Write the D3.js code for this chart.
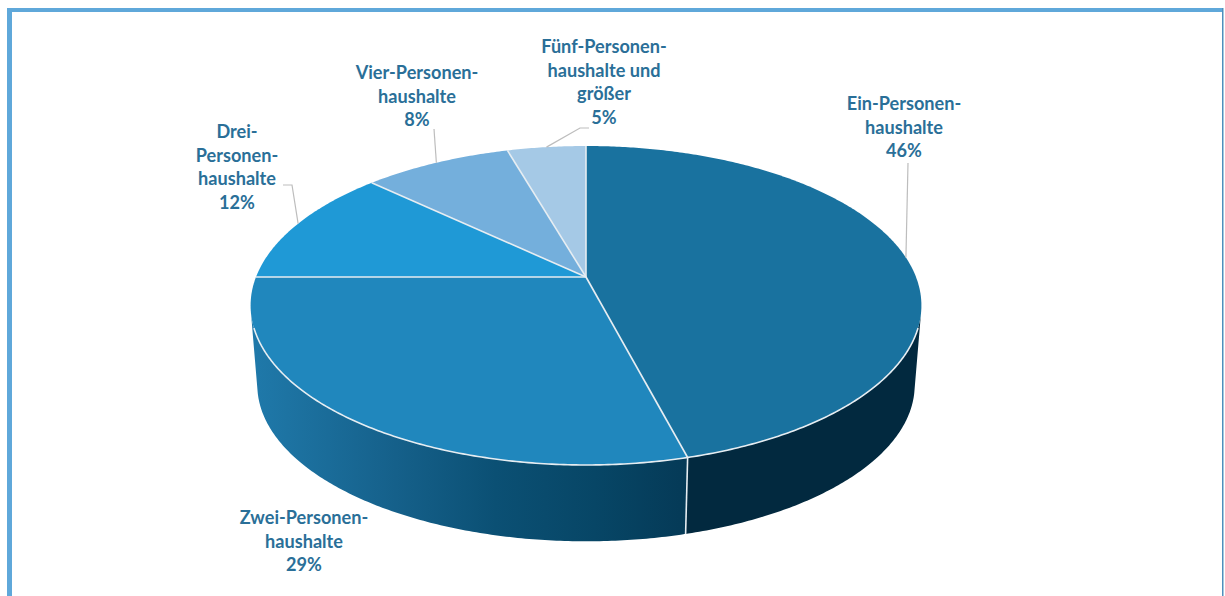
<!DOCTYPE html>
<html lang="de">
<head>
<meta charset="UTF-8">
<title>Haushaltsgrößen</title>
<script src="https://d3js.org/d3.v7.min.js"></script>
<style>
    html, body { margin: 0; padding: 0; background: #fff; overflow: hidden; }
    svg { display: block; }
    .label { font-family: Lato, "Liberation Sans", sans-serif; font-weight: 700; font-size: 19.5px; fill: #2a6f98; text-anchor: middle; }
</style>
</head>
<body>
<div id="chart"></div>
<script>
    const categories = ["Ein-Personenhaushalte", "Zwei-Personenhaushalte", "Drei-Personenhaushalte", "Vier-Personenhaushalte", "Fünf-Personenhaushalte und größer"];
    const shares = [45.9, 29.1, 12, 8.5, 4.5];
    const labelLines = [
        ["Ein-Personen-", "haushalte", "46%"],
        ["Zwei-Personen-", "haushalte", "29%"],
        ["Drei-", "Personen-", "haushalte", "12%"],
        ["Vier-Personen-", "haushalte", "8%"],
        ["Fünf-Personen-", "haushalte und", "größer", "5%"]
    ];
    const colors = ["#19729f", "#2087bd", "#1f99d6", "#74afdc", "#a5c9e6"];

    // Layout: where each label sits and how its leader line bends
    const labelPos = [[904, 110], [304, 524], [237, 138], [417, 79], [604, 53]];
    const leaderStart = [[908, 163], null, [283, 185], [434, 129], [589, 128]];
    const leaderBend = [null, null, [292, 185], null, [580, 128]];

    const width = 1225, height = 596, lineHeight = 23.7, textSquash = 0.93;

    // Perspective of the disc: hub at (cx, cy), k is how strong the tilt foreshortens
    const cx = 586, cy = 277, fx = 330, fy = 154.4, k = 0.1787;
    const topCenterY = 305.5, depthY = 79.5, shrink = 0.98;

    function project(a) {
        const u = Math.sin(a), v = -Math.cos(a), d = 1 - k * v;
        return [cx + fx * u / d, cy + fy * v / d];
    }
    function projectBottom(a) {
        const p = project(a);
        return [cx + (p[0] - cx) * shrink, topCenterY + depthY + (p[1] - topCenterY) * shrink];
    }

    const svg = d3.select("#chart").append("svg")
        .attr("width", width)
        .attr("height", height);

    // Frame, open at the bottom
    svg.append("rect").attr("x", 7).attr("y", 8).attr("width", 1216).attr("height", 4).attr("fill", "#5fa8da");
    svg.append("rect").attr("x", 7).attr("y", 8).attr("width", 5).attr("height", 588).attr("fill", "#5fa8da");
    svg.append("rect").attr("x", 1222).attr("y", 8).attr("width", 1.5).attr("height", 588).attr("fill", "#4f8fbc");

    const pie = d3.pie().sort(null).startAngle(0).endAngle(2 * Math.PI);
    const slices = pie(shares);
    const line = d3.line();

    function angles(a0, a1) {
        const n = Math.max(2, Math.ceil((a1 - a0) / 0.01));
        return d3.range(n + 1).map(i => a0 + (a1 - a0) * i / n);
    }

    const defs = svg.append("defs");
    const grad = defs.append("linearGradient")
        .attr("id", "wallLeft")
        .attr("gradientUnits", "userSpaceOnUse")
        .attr("x1", 253).attr("x2", 686).attr("y1", 0).attr("y2", 0);
    [[0, "#1f79aa"], [0.08, "#1d73a2"], [0.33, "#15608a"], [0.56, "#0b5074"], [0.79, "#074666"], [1, "#053a57"]]
        .forEach(s => grad.append("stop").attr("offset", s[0]).attr("stop-color", s[1]));

    // Side wall: only the front part of the rim, found where the disc passes the tangent height
    const split = slices[0].endAngle;
    const front = angles(0, 2 * Math.PI).filter(a => project(a)[1] >= 312);
    const wallRight = front.filter(a => a < split).concat([split]);
    const wallLeft = [split].concat(front.filter(a => a > split));

    function wallPath(list) {
        return line(list.map(project).concat(list.slice().reverse().map(projectBottom))) + "Z";
    }
    svg.append("path").attr("d", wallPath(wallRight)).attr("fill", "#02293f");
    svg.append("path").attr("d", wallPath(wallLeft)).attr("fill", "url(#wallLeft)");

    // Top face
    svg.selectAll("path.slice")
        .data(slices)
        .enter().append("path")
        .attr("class", "slice")
        .attr("d", d => line([[cx, cy]].concat(angles(d.startAngle, d.endAngle).map(project))) + "Z")
        .attr("fill", (d, i) => colors[i]);

    // White separators between slices and round the front rim
    svg.selectAll("line.sep")
        .data(slices)
        .enter().append("line")
        .attr("class", "sep")
        .attr("x1", cx).attr("y1", cy)
        .attr("x2", d => project(d.startAngle)[0])
        .attr("y2", d => project(d.startAngle)[1])
        .attr("stroke", "#e6edf2")
        .attr("stroke-width", 1.6);

    const rim = front.filter(a => project(a)[1] >= 327);
    svg.append("path")
        .attr("d", line(rim.map(project)))
        .attr("fill", "none")
        .attr("stroke", "#e6edf2")
        .attr("stroke-width", 1.6);
    svg.append("line")
        .attr("x1", project(split)[0]).attr("y1", project(split)[1])
        .attr("x2", projectBottom(split)[0]).attr("y2", projectBottom(split)[1])
        .attr("stroke", "#e6edf2")
        .attr("stroke-width", 1.6);

    // Leader lines end on the middle of their slice
    slices.forEach((d, i) => {
        if (!leaderStart[i]) return;
        const end = project((d.startAngle + d.endAngle) / 2);
        const pts = [leaderStart[i]];
        if (leaderBend[i]) pts.push(leaderBend[i]);
        pts.push(end);
        svg.append("path")
            .attr("d", line(pts))
            .attr("fill", "none")
            .attr("stroke", "#bdbdbd")
            .attr("stroke-width", 1.2);
    });

    // Labels, squeezed sideways because no condensed face is installed
    labelLines.forEach((lines, i) => {
        const t = svg.append("text")
            .attr("class", "label")
            .attr("transform", "translate(" + labelPos[i][0] + "," + labelPos[i][1] + ") scale(" + textSquash + ",1)");
        lines.forEach((s, j) => {
            t.append("tspan").attr("x", 0).attr("y", j * lineHeight).text(s);
        });
    });
</script>
</body>
</html>
